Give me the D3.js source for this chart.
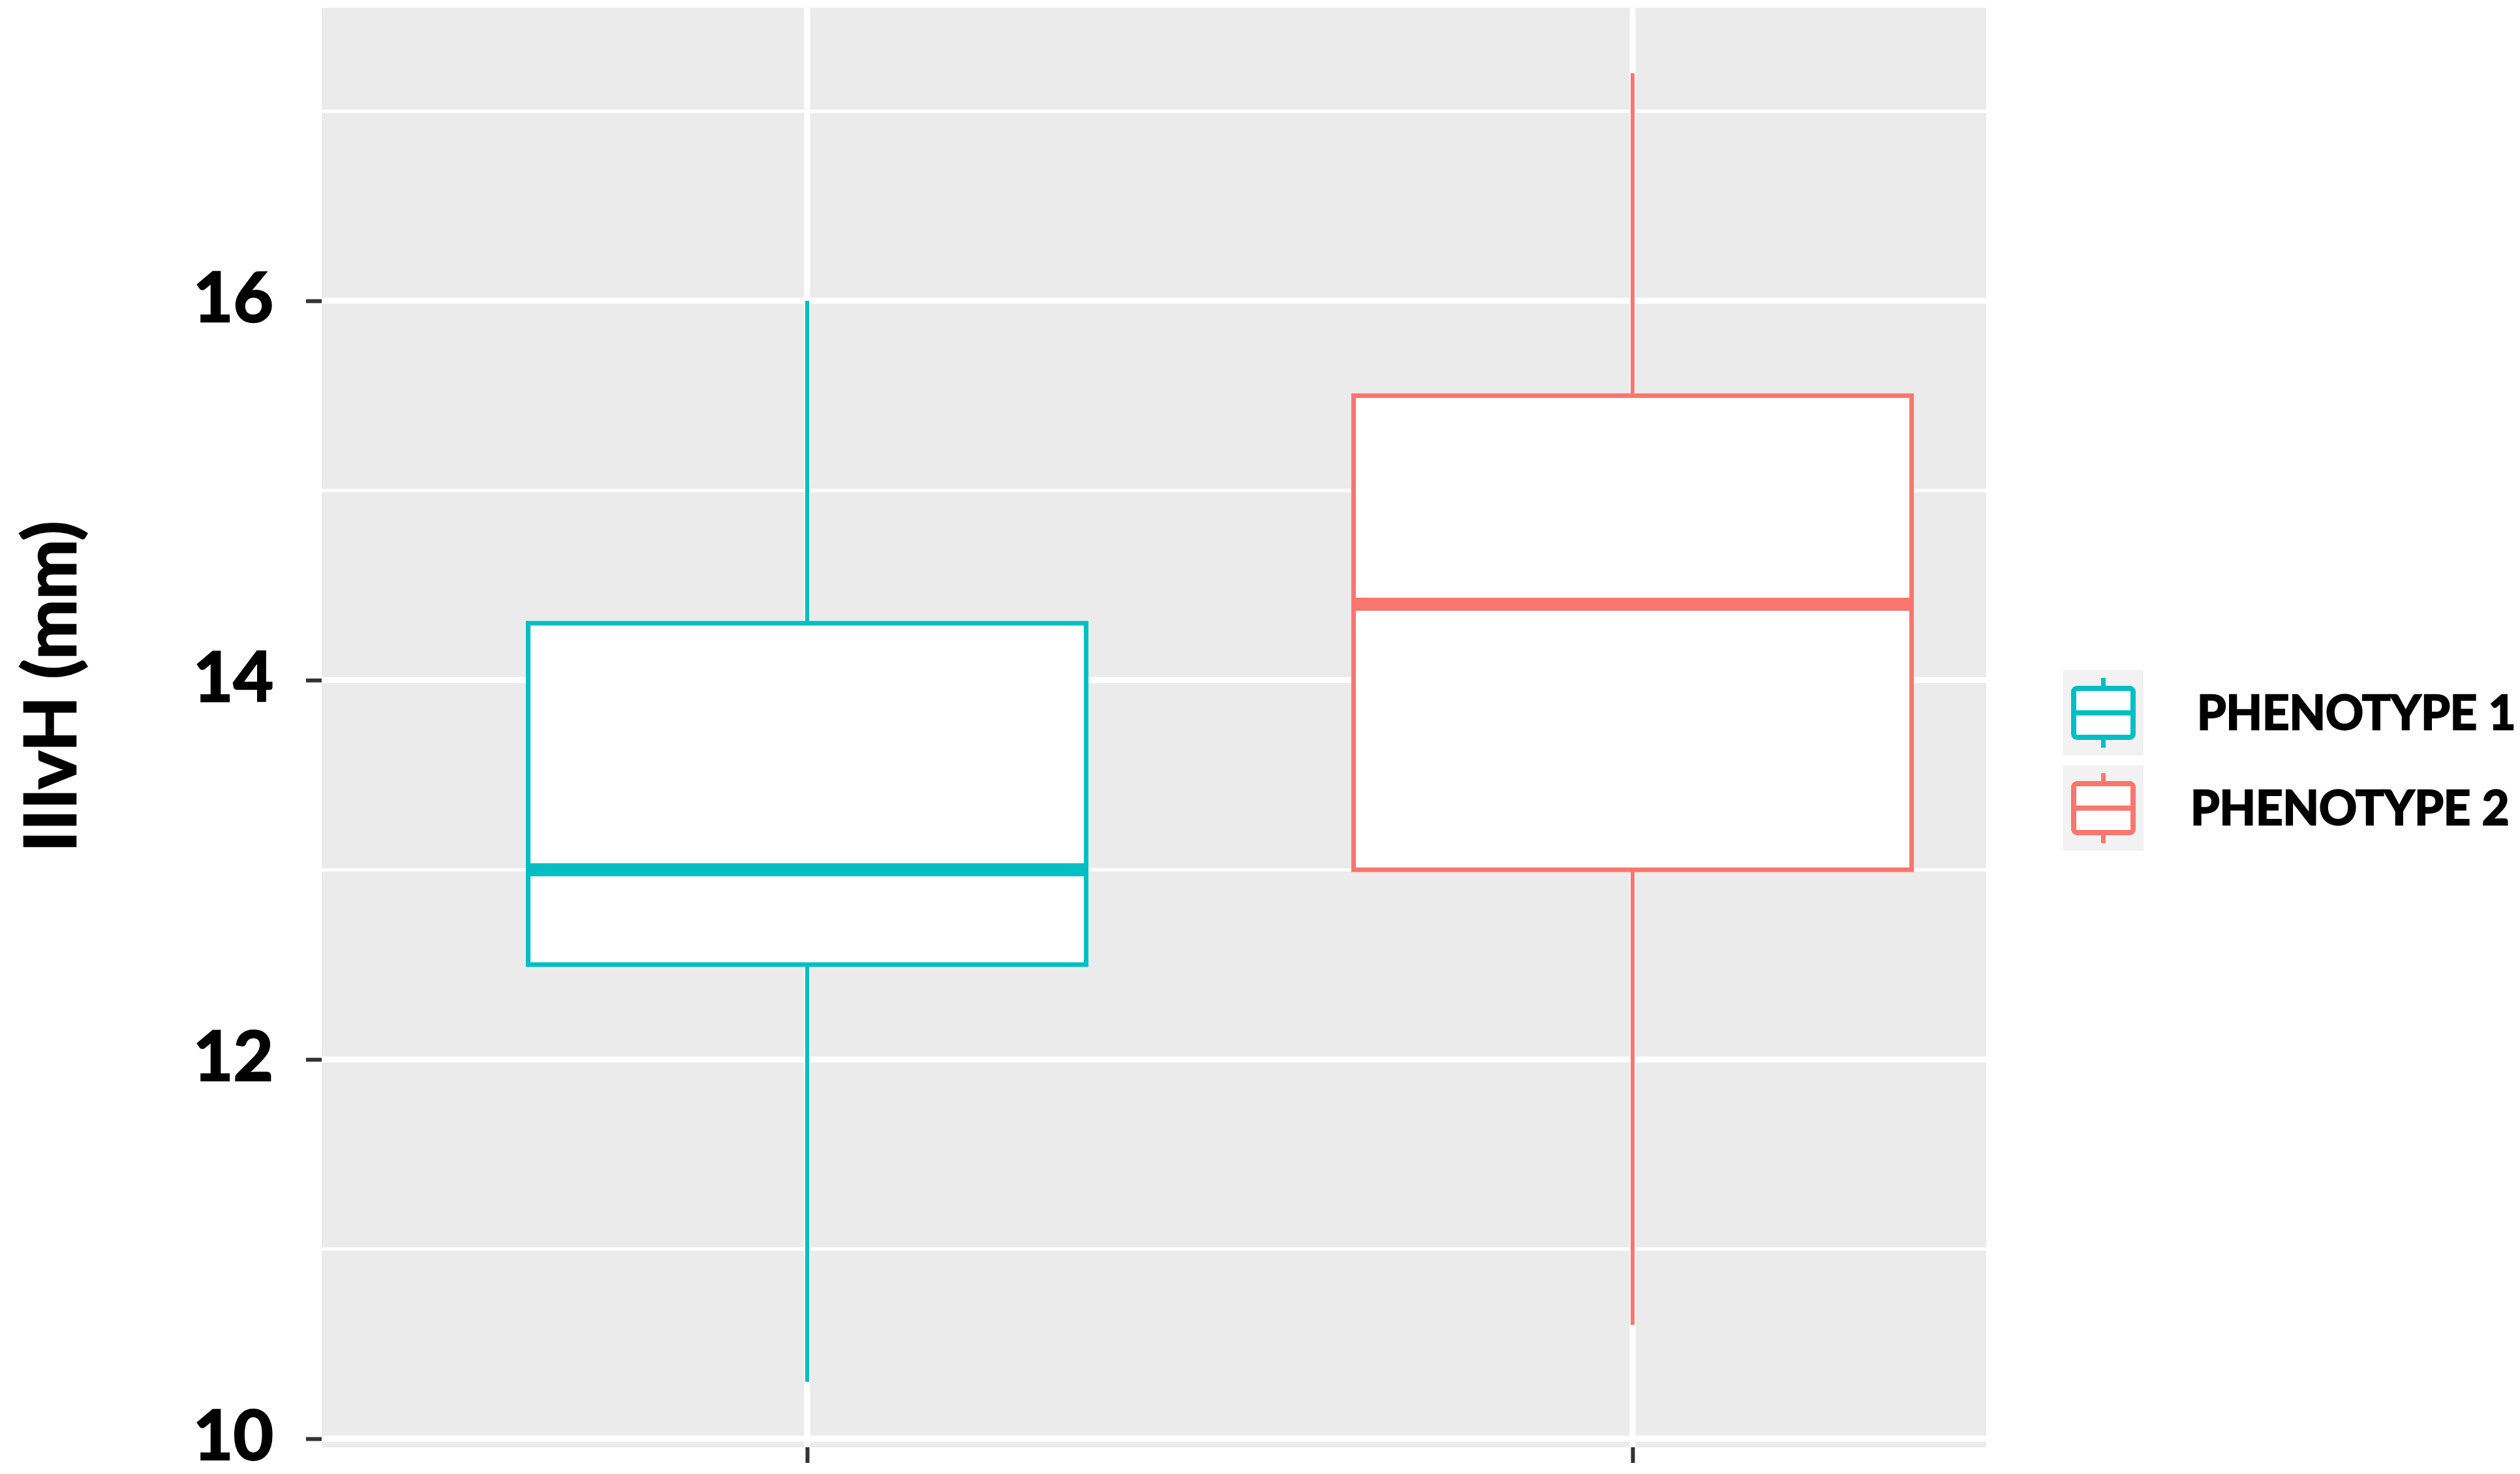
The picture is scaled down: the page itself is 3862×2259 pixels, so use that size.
<!DOCTYPE html>
<html>
<head>
<meta charset="utf-8">
<script src="https://cdn.jsdelivr.net/npm/d3@7"></script>
<style>
  body { margin: 0; background: #fff; }
  text { font-family: Lato, 'Open Sans', sans-serif; font-weight: bold; fill: #000; stroke: #000; stroke-width: 2.5px; }
</style>
</head>
<body>
<div id="chart"></div>
<script>
const groups = ['PHENOTYPE 1', 'PHENOTYPE 2']
const colors = ['#00BFC4', '#F8766D']
const whiskerLow = [10.3, 10.6]
const q1 = [12.5, 13.0]
const median = [13.0, 14.4]
const q3 = [14.3, 15.5]
const whiskerHigh = [16.0, 17.2]
const majorTicks = [10, 12, 14, 16]
const minorTicks = [11, 13, 15, 17]
const yLabel = 'IIIvH (mm)'

const W = 3862
const H = 2259
const PANEL = { LEFT: 493, RIGHT: 3044, TOP: 12, BOTTOM: 2218 }

const data = groups.map((g, i) => ({
  group: g,
  color: colors[i],
  lo: whiskerLow[i],
  q1: q1[i],
  med: median[i],
  q3: q3[i],
  hi: whiskerHigh[i]
}))

const svg = d3.select('#chart')
  .append('svg')
  .attr('width', W)
  .attr('height', H)

// y range with ggplot style 5% expansion
const lo = d3.min(whiskerLow), hi = d3.max(whiskerHigh)
const pad = (hi - lo) * 0.05
const y = d3.scaleLinear()
  .domain([lo - pad, hi + pad])
  .range([PANEL.BOTTOM, PANEL.TOP])

const x = d3.scalePoint()
  .domain(groups)
  .range([1237, 2502])

const boxHalf = (x(groups[1]) - x(groups[0])) * 0.338

// panel
svg.append('rect')
  .attr('x', PANEL.LEFT)
  .attr('y', PANEL.TOP)
  .attr('width', PANEL.RIGHT - PANEL.LEFT)
  .attr('height', PANEL.BOTTOM - PANEL.TOP)
  .attr('fill', '#EBEBEB')

// grid
svg.append('g').selectAll('line')
  .data(minorTicks)
  .enter().append('line')
  .attr('x1', PANEL.LEFT).attr('x2', PANEL.RIGHT)
  .attr('y1', d => y(d)).attr('y2', d => y(d))
  .attr('stroke', '#fff').attr('stroke-width', 5)

svg.append('g').selectAll('line')
  .data(majorTicks)
  .enter().append('line')
  .attr('x1', PANEL.LEFT).attr('x2', PANEL.RIGHT)
  .attr('y1', d => y(d)).attr('y2', d => y(d))
  .attr('stroke', '#fff').attr('stroke-width', 9)

svg.append('g').selectAll('line')
  .data(groups)
  .enter().append('line')
  .attr('x1', d => x(d)).attr('x2', d => x(d))
  .attr('y1', PANEL.TOP).attr('y2', PANEL.BOTTOM)
  .attr('stroke', '#fff').attr('stroke-width', 9)

// y axis
const yAxis = svg.append('g')
  .attr('transform', `translate(${PANEL.LEFT}, 0)`)
  .call(d3.axisLeft(y).tickValues(majorTicks).tickSize(24).tickPadding(50).tickFormat(d3.format('d')))
yAxis.select('.domain').remove()
yAxis.selectAll('line').attr('stroke', '#333').attr('stroke-width', 6)
yAxis.selectAll('text')
  .attr('font-size', 106)
  .attr('font-family', 'Lato, sans-serif')
  .attr('font-weight', 'bold')
  .attr('fill', '#000')
  .attr('dy', '0.3em')

// x axis (ticks only)
const xAxis = svg.append('g')
  .attr('transform', `translate(0, ${PANEL.BOTTOM})`)
  .call(d3.axisBottom(x).tickSize(24).tickFormat(''))
xAxis.select('.domain').remove()
xAxis.selectAll('line').attr('stroke', '#333').attr('stroke-width', 6)

// y title
svg.append('text')
  .attr('transform', `translate(76, 1052) rotate(-90)`)
  .attr('text-anchor', 'middle')
  .attr('dy', '0.36em')
  .attr('font-size', 110)
  .text(yLabel)

// boxes
const boxes = svg.append('g').selectAll('g')
  .data(data)
  .enter().append('g')

boxes.append('line')
  .attr('x1', d => x(d.group)).attr('x2', d => x(d.group))
  .attr('y1', d => y(d.hi)).attr('y2', d => y(d.q3))
  .attr('stroke', d => d.color).attr('stroke-width', 6)

boxes.append('line')
  .attr('x1', d => x(d.group)).attr('x2', d => x(d.group))
  .attr('y1', d => y(d.q1)).attr('y2', d => y(d.lo))
  .attr('stroke', d => d.color).attr('stroke-width', 6)

boxes.append('rect')
  .attr('x', d => x(d.group) - boxHalf)
  .attr('width', boxHalf * 2)
  .attr('y', d => y(d.q3))
  .attr('height', d => y(d.q1) - y(d.q3))
  .attr('fill', '#fff')
  .attr('stroke', d => d.color)
  .attr('stroke-width', 7)

boxes.append('line')
  .attr('x1', d => x(d.group) - boxHalf).attr('x2', d => x(d.group) + boxHalf)
  .attr('y1', d => y(d.med)).attr('y2', d => y(d.med))
  .attr('stroke', d => d.color).attr('stroke-width', 20)

// legend
const keyX = 3162, keyW = 123, keyH = 131
const keyY = [1027, 1173]
const labelX = [3367, 3357]

const legend = svg.append('g').selectAll('g')
  .data(data)
  .enter().append('g')
  .attr('transform', (d, i) => `translate(${keyX}, ${keyY[i]})`)

legend.append('rect')
  .attr('width', keyW).attr('height', keyH)
  .attr('fill', '#F2F2F2')

legend.append('line')
  .attr('x1', keyW / 2).attr('x2', keyW / 2)
  .attr('y1', 12).attr('y2', keyH - 12)
  .attr('stroke', d => d.color).attr('stroke-width', 7)

legend.append('rect')
  .attr('x', 16).attr('y', 28)
  .attr('width', keyW - 32).attr('height', keyH - 56)
  .attr('rx', 5)
  .attr('fill', '#fff')
  .attr('stroke', d => d.color).attr('stroke-width', 8)

legend.append('line')
  .attr('x1', 16).attr('x2', keyW - 16)
  .attr('y1', keyH / 2).attr('y2', keyH / 2)
  .attr('stroke', d => d.color).attr('stroke-width', 8)

legend.append('text')
  .attr('x', (d, i) => labelX[i] - keyX)
  .attr('y', keyH / 2)
  .attr('dy', '0.36em')
  .attr('font-size', 72)
  .text(d => d.group)
</script>
</body>
</html>
